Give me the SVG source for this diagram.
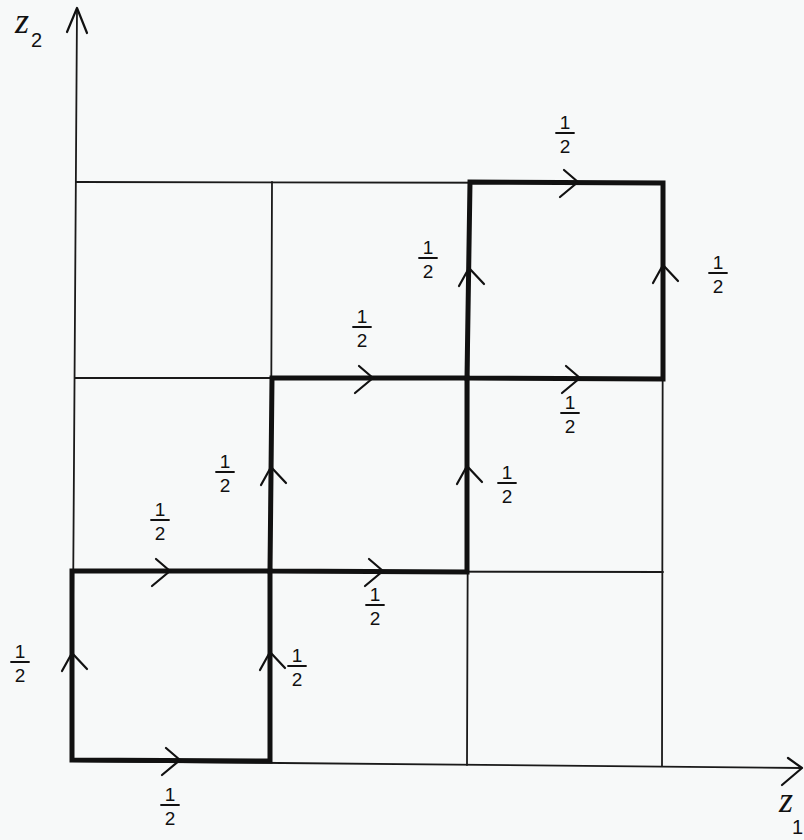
<svg xmlns="http://www.w3.org/2000/svg" width="804" height="840" viewBox="0 0 804 840">
<style>
.thin{stroke:#1a1a1a;stroke-width:1.8;fill:none;stroke-linecap:round}
.thick{stroke:#111;stroke-width:5;fill:none;stroke-linejoin:miter;stroke-linecap:square}
.ah{stroke:#111;stroke-width:2.2;fill:none;stroke-linecap:round;stroke-linejoin:round}
.num{font-family:"Liberation Sans",Arial,sans-serif;font-size:19px;fill:#111;text-anchor:middle}
.bar{stroke:#111;stroke-width:1.8;stroke-linecap:round}
.ax{font-family:"Liberation Serif","Times New Roman",serif;font-style:italic;font-size:36px;fill:#111}
.sub{font-family:"Liberation Sans",Arial,sans-serif;font-size:20px;fill:#111}
</style>
<defs>
<path id="ar" class="ah" d="M-14,-12 L0,0 L-18,15"/>
<path id="au" class="ah" d="M-10,18 L0,0 L15,16"/>
<g id="half">
<text class="num" x="0" y="-4">1</text>
<line class="bar" x1="-9" y1="0" x2="9" y2="0"/>
<text class="num" x="0" y="20">2</text>
</g>
</defs>
<rect width="804" height="840" fill="#f7f9f9"/>

<g id="grid">
<line class="thin" x1="76" y1="182" x2="663" y2="183"/>
<line class="thin" x1="75" y1="378" x2="663" y2="378"/>
<line class="thin" x1="73" y1="571" x2="663" y2="572"/>
<line class="thin" x1="272" y1="182" x2="270" y2="762"/>
<line class="thin" x1="469" y1="182" x2="467" y2="765"/>
<line class="thin" x1="663" y1="183" x2="662" y2="766"/>
</g>

<g id="axes">
<line class="thin" x1="77" y1="9" x2="72" y2="761"/>
<path class="ah" d="M67,32 L77,8 L87,33"/>
<line class="thin" x1="72" y1="761" x2="801" y2="768"/>
<path class="ah" d="M788,758 L802,768 L782,785"/>
<text class="ax" x="15" y="33">z</text>
<text class="sub" x="31" y="47">2</text>
<text class="ax" x="779" y="812">z</text>
<text class="sub" x="792" y="834">1</text>
</g>

<g id="connectors">
<path class="thick" d="M72,760 L270,761 L270,571 L72,571 Z"/>
<path class="thick" d="M270,571 L467,572 L467,378 L272,378 Z"/>
<path class="thick" d="M467,378 L663,379 L663,183 L470,182 Z"/>
<use href="#ar" x="180" y="760"/>
<use href="#au" x="72" y="653"/>
<use href="#au" x="270" y="652"/>
<use href="#ar" x="170" y="571"/>
<use href="#ar" x="383" y="571"/>
<use href="#au" x="271" y="467"/>
<use href="#au" x="467" y="466"/>
<use href="#ar" x="373" y="378"/>
<use href="#ar" x="580" y="378"/>
<use href="#au" x="469" y="268"/>
<use href="#ar" x="578" y="182"/>
<use href="#au" x="663" y="265"/>
</g>

<g id="labels">
<use id="l1" href="#half" x="170" y="805"/>
<use id="l2" href="#half" x="20" y="662"/>
<use id="l3" href="#half" x="297" y="666"/>
<use id="l4" href="#half" x="160" y="520"/>
<use id="l5" href="#half" x="375" y="605"/>
<use id="l6" href="#half" x="225" y="472"/>
<use id="l7" href="#half" x="507" y="483"/>
<use id="l8" href="#half" x="362" y="327"/>
<use id="l9" href="#half" x="570" y="413"/>
<use id="l10" href="#half" x="428" y="258"/>
<use id="l11" href="#half" x="565" y="133"/>
<use id="l12" href="#half" x="718" y="273"/>
</g>
</svg>
